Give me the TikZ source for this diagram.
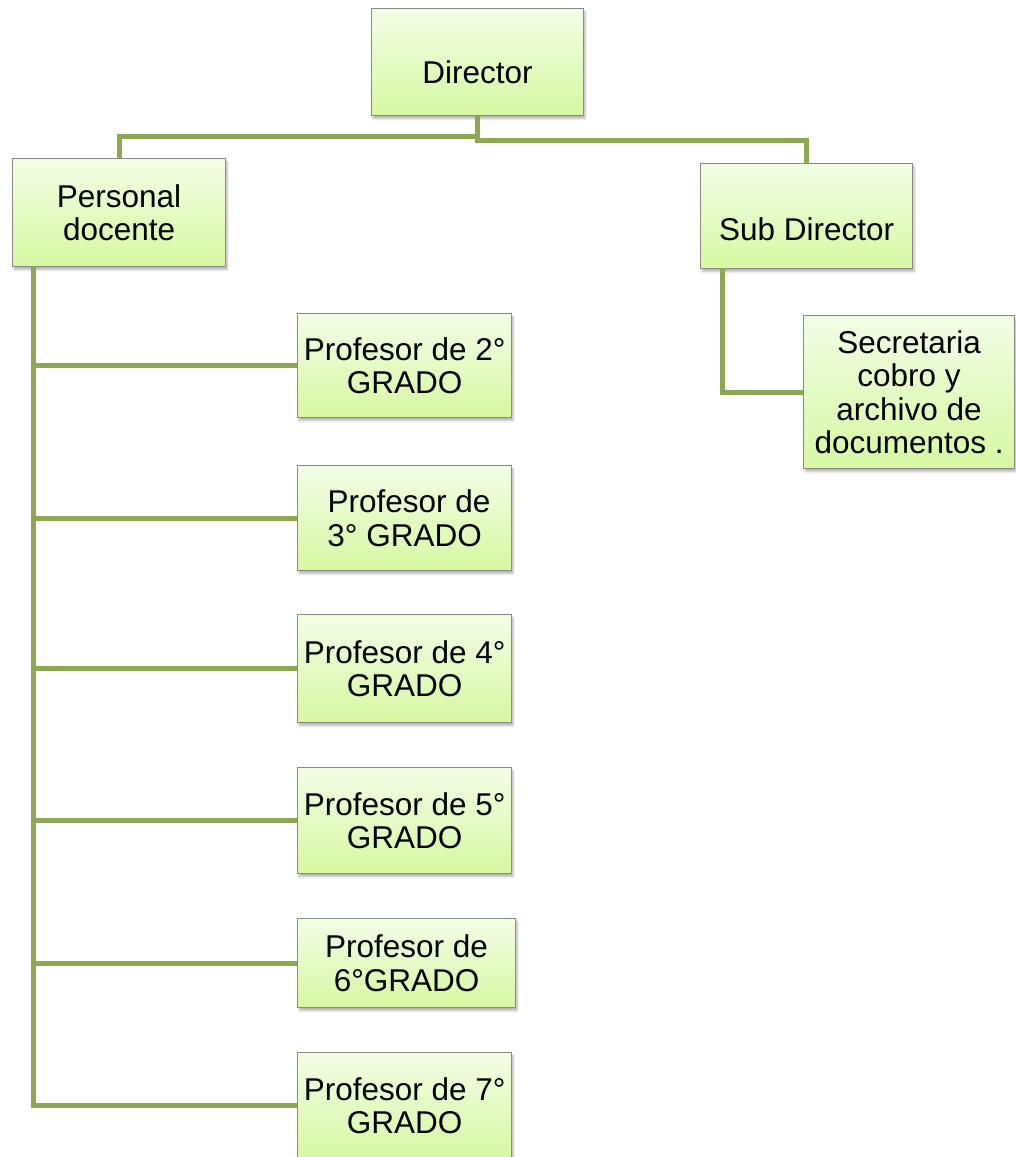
\documentclass[tikz,border=0pt]{standalone}
\usepackage{fontspec}
\setmainfont{Liberation Sans}
\usetikzlibrary{shadows.blur}
\definecolor{conncol}{HTML}{8DA850}
\definecolor{boxtop}{HTML}{F3FDE6}
\definecolor{boxbot}{HTML}{D6F8A2}
\definecolor{boxline}{HTML}{8A8A8A}
\tikzset{
  orgbox/.style={draw=boxline, line width=1.2pt, top color=boxtop, bottom color=boxbot,
    anchor=north west, inner sep=0pt, align=center,
    font=\fontsize{31.5}{33.5}\selectfont,
    blur shadow={shadow blur steps=6, shadow xshift=1.5pt, shadow yshift=-3pt, shadow opacity=30}},
  boxtxt/.style={font=\fontsize{31.5}{33.5}\selectfont, inner sep=0pt, align=center},
  conn/.style={draw=conncol, line width=5pt, line join=miter}
}
\begin{document}
\begin{tikzpicture}[x=1pt,y=-1pt]
\useasboundingbox (0,0) rectangle (1016,1157);
\clip (0,0) rectangle (1016,1157);
% boxes
\node[orgbox, minimum width=212pt, minimum height=107pt,
  label={[boxtxt, yshift=-10.5pt]center:Director}] (dir) at (371,8) {};
\node[orgbox, minimum width=213pt, minimum height=108pt] (pd) at (12,158) {Personal\\docente};
\node[orgbox, minimum width=212pt, minimum height=105pt,
  label={[boxtxt, yshift=-13pt]center:Sub Director}] (sd) at (700,163) {};
\node[orgbox, minimum width=211pt, minimum height=153pt] (sec) at (803,315) {Secretaria\\cobro y\\archivo de\\documentos .};
\node[orgbox, minimum width=214pt, minimum height=104pt] (p2) at (297,313) {Profesor de 2°\\GRADO};
\node[orgbox, minimum width=214pt, minimum height=105pt] (p3) at (297,465) {\ Profesor de\\3° GRADO};
\node[orgbox, minimum width=214pt, minimum height=108pt] (p4) at (297,614) {Profesor de 4°\\GRADO};
\node[orgbox, minimum width=214pt, minimum height=106pt] (p5) at (297,767) {Profesor de 5°\\GRADO};
\node[orgbox, minimum width=218pt, minimum height=89pt] (p6) at (297,918) {Profesor de\\6°GRADO};
\node[orgbox, minimum width=214pt, minimum height=106pt] (p7) at (297,1052) {Profesor de 7°\\GRADO};
% connectors
\coordinate (pdv) at (33,266);
\coordinate (sdv) at (722,268);
\draw[conn] (dir.south) -- ++(0,20) -| (pd.north);
\draw[conn] (dir.south) -- ++(0,24) -| (sd.north);
\draw[conn] (pdv) |- (p7.west);
\foreach \p in {p2,p3,p4,p5,p6} { \draw[conn] (pdv |- \p.west) -- (\p.west); }
\draw[conn] (sdv) |- (sec.west);
\end{tikzpicture}
\end{document}
